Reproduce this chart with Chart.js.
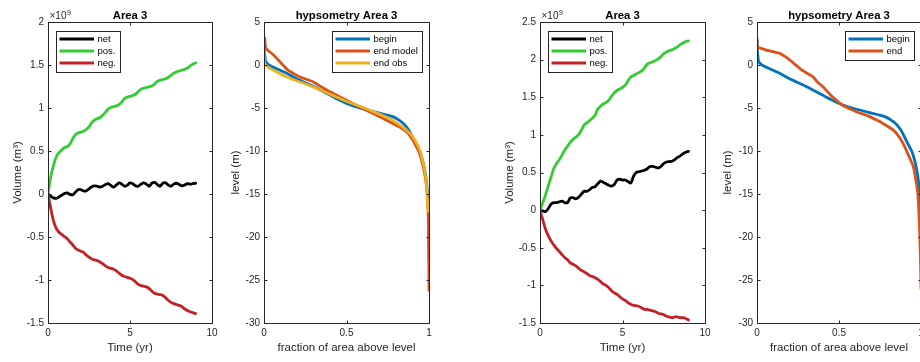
<!DOCTYPE html>
<html>
<head>
<meta charset="utf-8">
<script src="https://cdn.jsdelivr.net/npm/chart.js@4.4.1/dist/chart.umd.min.js"></script>
<style>
  html, body { margin: 0; padding: 0; background: #fff; width: 920px; height: 362px; overflow: hidden; position: relative; }
  canvas { position: absolute; top: 0; }
</style>
</head>
<body>
<canvas id="volA" width="230" height="362" style="left:0px"></canvas>
<canvas id="hypA" width="238" height="362" style="left:222px"></canvas>
<canvas id="volB" width="240" height="362" style="left:480px"></canvas>
<canvas id="hypB" width="240" height="362" style="left:700px"></canvas>
<script>
// time axis, two-month steps (years)
const years = [0,0.17,0.33,0.5,0.67,0.83,1,1.17,1.33,1.5,1.67,1.83,2,2.17,2.33,2.5,2.67,2.83,3,3.17,3.33,3.5,3.67,3.83,4,4.17,4.33,4.5,4.67,4.83,5,5.17,5.33,5.5,5.67,5.83,6,6.17,6.33,6.5,6.67,6.83,7,7.17,7.33,7.5,7.67,7.83,8,8.17,8.33,8.5,8.67,8.83,9];

// cumulative volume change, run A (units of 1e9 m3)
const netA = [0,-0.025,-0.045,-0.05,-0.035,-0.015, 0.005,0.012,-0.005,-0.01,0.02,0.05, 0.05,0.035,0.035,0.06,0.085,0.095, 0.09,0.08,0.09,0.11,0.12,0.10, 0.08,0.105,0.13,0.115,0.09,0.10, 0.13,0.12,0.095,0.09,0.115,0.13, 0.115,0.09,0.125,0.135,0.11,0.09, 0.125,0.13,0.105,0.09,0.115,0.125, 0.11,0.095,0.105,0.12,0.115,0.12, 0.125];
const posA = [0,0.20,0.33,0.43,0.48,0.51, 0.54,0.55,0.58,0.64,0.69,0.71, 0.72,0.73,0.75,0.78,0.83,0.86, 0.875,0.89,0.915,0.95,0.99,1.005, 1.015,1.025,1.04,1.07,1.11,1.125, 1.135,1.145,1.16,1.19,1.22,1.23, 1.24,1.245,1.255,1.28,1.31,1.325, 1.33,1.34,1.355,1.38,1.405,1.42, 1.43,1.44,1.45,1.465,1.49,1.51, 1.525];
const negA = [0,-0.17,-0.31,-0.40,-0.445,-0.47, -0.495,-0.52,-0.555,-0.59,-0.63,-0.65, -0.665,-0.68,-0.71,-0.735,-0.755,-0.765, -0.775,-0.79,-0.81,-0.835,-0.855,-0.865, -0.875,-0.895,-0.92,-0.945,-0.96,-0.97, -0.98,-0.995,-1.02,-1.05,-1.065,-1.07, -1.08,-1.10,-1.13,-1.155,-1.165,-1.17, -1.18,-1.205,-1.235,-1.26,-1.275,-1.285, -1.295,-1.31,-1.335,-1.355,-1.37,-1.38, -1.39];

// cumulative volume change, run B (units of 1e9 m3)
const netB = [0,-0.01,-0.02,0.02,0.08,0.10, 0.10,0.11,0.12,0.10,0.10,0.16, 0.165,0.15,0.17,0.21,0.25,0.25, 0.27,0.30,0.31,0.35,0.385,0.37, 0.35,0.33,0.32,0.34,0.40,0.41, 0.40,0.40,0.38,0.36,0.45,0.50, 0.51,0.52,0.53,0.55,0.58,0.58, 0.57,0.56,0.58,0.62,0.64,0.645, 0.65,0.67,0.70,0.72,0.75,0.77, 0.78];
const posB = [0,0.10,0.20,0.32,0.44,0.55, 0.62,0.67,0.73,0.80,0.85,0.90, 0.94,0.97,1.00,1.06,1.13,1.16, 1.19,1.22,1.26,1.34,1.38,1.41, 1.43,1.46,1.51,1.56,1.59,1.61, 1.63,1.66,1.72,1.77,1.79,1.81, 1.83,1.85,1.89,1.94,1.96,1.97, 1.99,2.01,2.04,2.08,2.10,2.12, 2.13,2.15,2.17,2.20,2.22,2.24, 2.25];
const negB = [0,-0.13,-0.25,-0.34,-0.41,-0.46, -0.51,-0.55,-0.59,-0.63,-0.66,-0.70, -0.72,-0.74,-0.77,-0.80,-0.82,-0.84, -0.87,-0.88,-0.90,-0.92,-0.95,-0.98, -1.00,-1.03,-1.07,-1.10,-1.12,-1.15, -1.18,-1.20,-1.23,-1.25,-1.265,-1.27, -1.28,-1.30,-1.32,-1.32,-1.33,-1.34, -1.35,-1.37,-1.38,-1.39,-1.41,-1.42, -1.43,-1.42,-1.42,-1.43,-1.43,-1.44, -1.46];

// hypsometry: level (m) against fraction of area above that level
const beginLevel = [2.9,1.5,0.4,0,-0.5,-1,-1.5,-2,-2.5,-3,-3.5,-4,-4.5,-5,-5.5,-6,-6.5,-7,-7.5,-8,-9,-10,-11,-12,-13,-14,-15,-16,-17,-18,-20,-22.5];
const beginFrac  = [0,0.003,0.01,0.03,0.085,0.14,0.19,0.245,0.30,0.35,0.40,0.45,0.505,0.58,0.68,0.78,0.825,0.855,0.875,0.89,0.915,0.943,0.96,0.972,0.981,0.987,0.991,0.994,0.996,0.998,0.999,1.0];

const modelLevel = [3.1,2.0,1.6,1.3,0.8,0.4,-0.1,-0.6,-1.0,-1.4,-1.9,-2.4,-2.9,-3.4,-3.9,-4.4,-4.9,-5.4,-5.8,-6.3,-6.8,-7.3,-7.8,-8.5,-9.1,-10,-11,-12,-13,-14,-15,-16,-17,-19,-21,-23.5,-26.2];
const modelFrac  = [0.005,0.01,0.03,0.05,0.075,0.095,0.12,0.145,0.18,0.22,0.29,0.335,0.38,0.43,0.48,0.53,0.585,0.635,0.68,0.73,0.78,0.83,0.865,0.895,0.913,0.937,0.954,0.967,0.977,0.984,0.989,0.993,0.995,0.997,0.998,0.999,1.0];

const obsLevel = [1.7,0.2,-0.3,-0.58,-1.0,-1.36,-1.75,-2.1,-2.5,-2.9,-3.4,-3.9,-4.3,-4.65,-5.0,-5.4,-5.8,-6.2,-6.7,-7.2,-7.8,-8.3,-9.1,-9.9,-11,-12,-13,-14,-15,-16,-17];
const obsFrac  = [0,0.004,0.03,0.055,0.095,0.136,0.185,0.236,0.29,0.34,0.40,0.46,0.51,0.56,0.61,0.66,0.71,0.76,0.80,0.84,0.875,0.90,0.925,0.944,0.96,0.972,0.98,0.985,0.989,0.992,0.994];

const endLevel = [3.1,2.1,1.9,1.74,1.36,1.0,0.58,0.1,-0.38,-0.9,-1.36,-2.0,-2.5,-3.1,-3.7,-4.2,-4.65,-5.1,-5.43,-6.0,-6.4,-6.8,-7.55,-8.3,-9.1,-9.9,-11.0,-11.8,-13.0,-14.2,-15.5,-17.6,-20,-23,-26];
const endFrac  = [0,0.003,0.03,0.057,0.138,0.17,0.2,0.23,0.26,0.30,0.34,0.37,0.4,0.43,0.46,0.49,0.52,0.565,0.606,0.687,0.73,0.768,0.83,0.865,0.89,0.91,0.935,0.953,0.965,0.976,0.983,0.988,0.993,0.997,1.0];

const FONT = '"Liberation Sans", Arial, Helvetica, sans-serif';
Chart.defaults.font.family = FONT;
Chart.defaults.color = '#262626';
Chart.defaults.animation = false;

const TOP = 22, BOTTOM = 323, H = 362;
const C_NET = '#000000', C_POS = '#33cc33', C_NEG = '#c42126';
const C_BLUE = '#0072bd', C_ORANGE = '#d95319', C_YELLOW = '#edb120';

const fmt = v => String(Math.round(v * 100) / 100);
const pts = (xs, ys) => xs.map((x, i) => ({ x, y: ys[i] }));

// boxed axes with inward ticks, title, exponent label and legend
const frame = {
  id: 'frame',
  afterDatasetsDraw(chart, _args, o) {
    const { ctx, chartArea: a, scales } = chart;
    const L = Math.round(a.left) + 0.5, R = Math.round(a.right) + 0.5;
    const T = Math.round(a.top) + 0.5, B = Math.round(a.bottom) + 0.5;
    const tl = 3;
    ctx.save();
    ctx.strokeStyle = '#262626';
    ctx.lineWidth = 1;
    ctx.beginPath();
    ctx.rect(L, T, R - L, B - T);
    scales.x.ticks.forEach(t => {
      const px = Math.round(scales.x.getPixelForValue(t.value)) + 0.5;
      ctx.moveTo(px, B); ctx.lineTo(px, B - tl);
      ctx.moveTo(px, T); ctx.lineTo(px, T + tl);
    });
    scales.y.ticks.forEach(t => {
      const py = Math.round(scales.y.getPixelForValue(t.value)) + 0.5;
      ctx.moveTo(L, py); ctx.lineTo(L + tl, py);
      ctx.moveTo(R, py); ctx.lineTo(R - tl, py);
    });
    ctx.stroke();

    // title
    ctx.fillStyle = '#000';
    ctx.font = 'bold 11.3px ' + FONT;
    ctx.textAlign = 'center';
    ctx.textBaseline = 'alphabetic';
    ctx.fillText(o.title, (a.left + a.right) / 2, 19);

    // axis multiplier
    if (o.exponent) {
      ctx.fillStyle = '#262626';
      ctx.textAlign = 'left';
      ctx.font = '10px ' + FONT;
      const x0 = a.left + 1.5;
      ctx.fillText('\u00d710', x0, 19);
      const w = ctx.measureText('\u00d710').width;
      ctx.font = '7px ' + FONT;
      ctx.fillText(o.exponent, x0 + w + 0.5, 14.5);
    }

    // legend
    const lg = o.legend;
    const items = chart.data.datasets;
    ctx.font = '9.5px ' + FONT;
    const tw = Math.max(...items.map(d => ctx.measureText(d.label).width));
    const w = Math.round(3.5 + 34.5 + 3.5 + tw + 4.5);
    const h = Math.round(12 * items.length + 4.5);
    const bx = Math.round(lg.side === 'left' ? a.left + lg.dx : a.right - lg.dx - w);
    const by = Math.round(a.top + lg.dy);
    ctx.fillStyle = '#fff';
    ctx.fillRect(bx, by, w, h);
    ctx.strokeStyle = '#262626';
    ctx.lineWidth = 1;
    ctx.strokeRect(bx + 0.5, by + 0.5, w, h);
    items.forEach((d, i) => {
      const yy = by + 8 + 12 * i;
      ctx.strokeStyle = d.borderColor;
      ctx.lineWidth = 2.8;
      ctx.beginPath();
      ctx.moveTo(bx + 3.5, yy);
      ctx.lineTo(bx + 38, yy);
      ctx.stroke();
      ctx.fillStyle = '#000';
      ctx.textAlign = 'left';
      ctx.textBaseline = 'middle';
      ctx.fillText(d.label, bx + 41.5, yy + 0.5);
    });
    ctx.restore();
  }
};

function line(label, data, color, order, tension) {
  return { label, data, borderColor: color, backgroundColor: color, borderWidth: 2.8,
           pointRadius: 0, tension, order, fill: false, borderCapStyle: 'round', borderJoinStyle: 'round' };
}

function panel(id, p) {
  const canvas = document.getElementById(id);
  const cLeft = parseFloat(canvas.style.left);
  const cWidth = canvas.width;
  return new Chart(canvas, {
    type: 'line',
    data: { datasets: p.datasets },
    plugins: [frame],
    options: {
      responsive: false,
      devicePixelRatio: 1,
      layout: { padding: { top: TOP, right: cLeft + cWidth - p.right, left: 0, bottom: 0 } },
      plugins: {
        legend: { display: false },
        tooltip: { enabled: false },
        frame: { title: p.title, exponent: p.exponent, legend: p.legend }
      },
      scales: {
        x: {
          type: 'linear', min: p.x.min, max: p.x.max,
          ticks: { stepSize: p.x.step, padding: 4, font: { size: 10 }, maxRotation: 0, callback: fmt },
          grid: { display: false, drawTicks: false }, border: { display: false },
          title: { display: true, text: p.x.label, font: { size: 11.5 }, padding: { top: 0, bottom: 7.1 } },
          afterFit(s) { s.height = H - BOTTOM; }
        },
        y: {
          type: 'linear', min: p.y.min, max: p.y.max,
          ticks: { stepSize: p.y.step, padding: 4, font: { size: 10 }, callback: fmt },
          grid: { display: false, drawTicks: false }, border: { display: false },
          title: { display: true, text: p.y.label, font: { size: 11.5 }, padding: { top: p.y.labelX - cLeft - 6.9, bottom: 0 } },
          afterFit(s) { s.width = p.left - cLeft; }
        }
      }
    }
  });
}

panel('volA', {
  left: 48, right: 212, title: 'Area 3', exponent: '9',
  legend: { side: 'left', dx: 8, dy: 9 },
  x: { min: 0, max: 10, step: 5, label: 'Time (yr)' },
  y: { min: -1.5, max: 2, step: 0.5, label: 'Volume (m\u00b3)', labelX: 17.5 },
  datasets: [
    line('net', pts(years, netA), C_NET, 3, 0.3),
    line('pos.', pts(years, posA), C_POS, 2, 0.3),
    line('neg.', pts(years, negA), C_NEG, 1, 0.3)
  ]
});

panel('hypA', {
  left: 264, right: 429, title: 'hypsometry Area 3',
  legend: { side: 'right', dx: 7, dy: 9 },
  x: { min: 0, max: 1, step: 0.5, label: 'fraction of area above level' },
  y: { min: -30, max: 5, step: 5, label: 'level (m)', labelX: 236 },
  datasets: [
    line('begin', pts(beginFrac, beginLevel), C_BLUE, 3, 0.2),
    line('end model', pts(modelFrac, modelLevel), C_ORANGE, 2, 0.2),
    line('end obs', pts(obsFrac, obsLevel), C_YELLOW, 1, 0.2)
  ]
});

panel('volB', {
  left: 540, right: 705, title: 'Area 3', exponent: '9',
  legend: { side: 'left', dx: 7.5, dy: 9 },
  x: { min: 0, max: 10, step: 5, label: 'Time (yr)' },
  y: { min: -1.5, max: 2.5, step: 0.5, label: 'Volume (m\u00b3)', labelX: 510 },
  datasets: [
    line('net', pts(years, netB), C_NET, 3, 0.3),
    line('pos.', pts(years, posB), C_POS, 2, 0.3),
    line('neg.', pts(years, negB), C_NEG, 1, 0.3)
  ]
});

panel('hypB', {
  left: 757, right: 921, title: 'hypsometry Area 3',
  legend: { side: 'right', dx: 7.5, dy: 9 },
  x: { min: 0, max: 1, step: 0.5, label: 'fraction of area above level' },
  y: { min: -30, max: 5, step: 5, label: 'level (m)', labelX: 728 },
  datasets: [
    line('begin', pts(beginFrac, beginLevel), C_BLUE, 2, 0.2),
    line('end', pts(endFrac, endLevel), C_ORANGE, 1, 0.2)
  ]
});
</script>
</body>
</html>
